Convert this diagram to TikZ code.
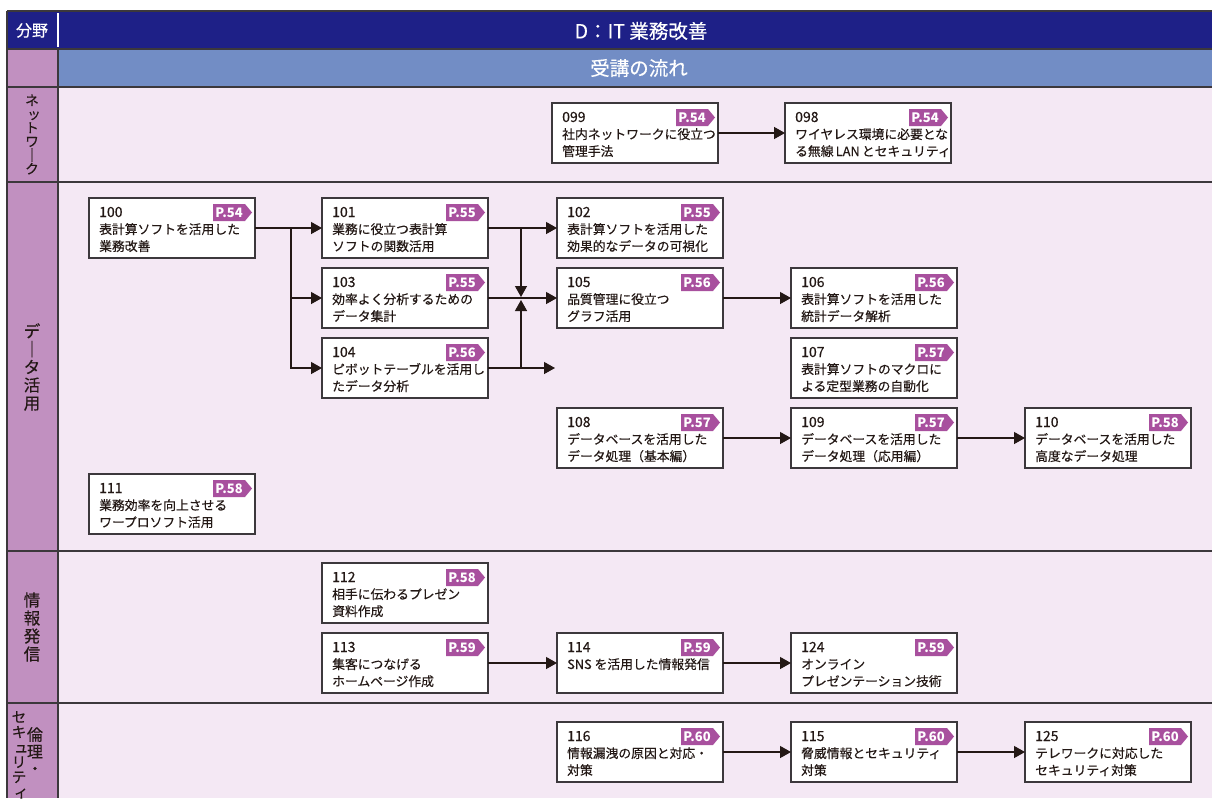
\documentclass[tikz,border=0pt]{standalone}
\usepackage{fontspec}
\setmainfont{Noto Sans CJK JP}[UprightFeatures={FakeBold=0.35}]
\usetikzlibrary{arrows.meta}
\definecolor{navy}{RGB}{30,32,135}
\definecolor{rowblue}{RGB}{114,141,197}
\definecolor{leftpink}{RGB}{193,144,192}
\definecolor{lanebg}{RGB}{244,232,244}
\definecolor{tagc}{RGB}{168,80,158}
\definecolor{ink}{RGB}{35,24,21}
\definecolor{rulec}{RGB}{60,56,60}
\newcommand{\smk}[1]{\hspace*{0.3em}#1}
\newcommand{\vbar}{｜}
\tikzset{
  cbox/.style={anchor=north west, minimum width=166pt, minimum height=60pt, draw=rulec, fill=white, line width=1.2pt, inner sep=0pt, outer sep=0pt},
  ctxt/.style={anchor=base west, inner sep=0pt, font=\fontsize{12.8}{15}\selectfont, text=ink},
  cnum/.style={anchor=base west, inner sep=0pt, font=\fontsize{14}{15}\selectfont, text=ink},
  tagtxt/.style={inner sep=0pt, font=\fontsize{13}{13}\selectfont\bfseries, text=white},
  conn/.style={draw=ink, line width=1.3pt, -{Triangle[length=11pt,width=12pt]}},
  vlab/.style={align=center, inner sep=0pt, text=ink},
  rl/.style={draw=rulec, line width=1.2pt},
  hdr/.style={inner sep=0pt, text=white}
}
\newcommand{\crsbox}[7]{%
  \node[cbox] (#1) at (#2,#3) {};
  \fill[tagc] (#2+124,#3+6) -- (#2+156,#3+6) -- (#2+163,#3+14.5) -- (#2+156,#3+23) -- (#2+124,#3+23) -- cycle;
  \node[tagtxt] at (#2+140,#3+14.5) {P.#7};
  \node[cnum] at (#2+10,#3+19) {#4};
  \node[ctxt] at (#2+10,#3+36) {#5};
  \node[ctxt] at (#2+10,#3+53) {#6};
}
\begin{document}
\begin{tikzpicture}[x=1pt,y=-1pt]
\useasboundingbox (0,0) rectangle (1212,798);
% backgrounds
\fill[navy] (7,11) rectangle (1212,49);
\fill[leftpink] (7,49) rectangle (58,798);
\fill[rowblue] (58,49) rectangle (1212,87);
\fill[lanebg] (58,87) rectangle (1212,798);
% rules
\draw[rl] (7,11) -- (1212,11);
\draw[rl] (7,11) -- (7,798);
\draw[rl] (7,49) -- (1212,49);
\draw[rl] (7,87) -- (1212,87);
\draw[rl] (7,182) -- (1212,182);
\draw[rl] (7,551) -- (1212,551);
\draw[rl] (7,703) -- (1212,703);
\draw[rl] (58,49) -- (58,798);
\draw[white, line width=1.5pt] (58,13) -- (58,47);
% header texts
\node[hdr, font=\fontsize{16}{16}\selectfont] (hfield) at (32,30.5) {分野};
\node[hdr, font=\fontsize{19.5}{19.5}\selectfont] (htitle) at (641,31) {D：IT 業務改善};
\node[hdr, font=\fontsize{19.5}{19.5}\selectfont] (hflow) at (639,68) {受講の流れ};
% lane labels
\node[vlab, font=\fontsize{13.6}{13.7}\selectfont] (lnet) at (32,134.5) {ネ\\\smk{ッ}\\ト\\ワ\\\vbar\\ク};
\node[vlab, font=\fontsize{16.5}{18}\selectfont] (ldata) at (32,367) {デ\\\vbar\\タ\\活\\用};
\node[vlab, font=\fontsize{16.5}{18}\selectfont] (linfo) at (32,627) {情\\報\\発\\信};
\node[vlab, anchor=north, font=\fontsize{16}{17}\selectfont] (lsec1) at (35,727) {倫\\理\\・};
\node[vlab, anchor=north, font=\fontsize{14.5}{15}\selectfont] (lsec2) at (19,711) {セ\\キ\\\smk{ュ}\\リ\\テ\\\smk{ィ}};
% boxes
\crsbox{b099}{552}{103}{099}{社内ネットワークに役立つ}{管理手法}{54}
\crsbox{b098}{785}{103}{098}{ワイヤレス環境に必要とな}{る無線\,LAN\,とセキュリティ}{54}
\crsbox{b100}{89}{198}{100}{表計算ソフトを活用した}{業務改善}{54}
\crsbox{b101}{322}{198}{101}{業務に役立つ表計算}{ソフトの関数活用}{55}
\crsbox{b103}{322}{268}{103}{効率よく分析するための}{データ集計}{55}
\crsbox{b104}{322}{338}{104}{ピボットテーブルを活用し}{たデータ分析}{56}
\crsbox{b102}{557}{198}{102}{表計算ソフトを活用した}{効果的なデータの可視化}{55}
\crsbox{b105}{557}{268}{105}{品質管理に役立つ}{グラフ活用}{56}
\crsbox{b106}{791}{268}{106}{表計算ソフトを活用した}{統計データ解析}{56}
\crsbox{b107}{791}{338}{107}{表計算ソフトのマクロに}{よる定型業務の自動化}{57}
\crsbox{b108}{557}{408}{108}{データベースを活用した}{データ処理（基本編）}{57}
\crsbox{b109}{791}{408}{109}{データベースを活用した}{データ処理（応用編）}{57}
\crsbox{b110}{1025}{408}{110}{データベースを活用した}{高度なデータ処理}{58}
\crsbox{b111}{89}{474}{111}{業務効率を向上させる}{ワープロソフト活用}{58}
\crsbox{b112}{322}{563}{112}{相手に伝わるプレゼン}{資料作成}{58}
\crsbox{b113}{322}{633}{113}{集客につなげる}{ホームページ作成}{59}
\crsbox{b114}{557}{633}{114}{SNS を活用した情報発信}{}{59}
\crsbox{b124}{791}{633}{124}{オンライン}{プレゼンテーション技術}{59}
\crsbox{b116}{557}{722}{116}{情報漏洩の原因と対応・}{対策}{60}
\crsbox{b115}{791}{722}{115}{脅威情報とセキュリティ}{対策}{60}
\crsbox{b125}{1025}{722}{125}{テレワークに対応した}{セキュリティ対策}{60}
% connector helpers
\coordinate (t1) at (291,0);
\coordinate (t2) at (521,0);
\coordinate (jdown) at (521,297);
\coordinate (jup) at (521,300);
\coordinate (e104) at (555,368);
% connectors
\draw[conn] (b099.east) -- (b098.west);
\draw[conn] (b100.east) -- (b101.west);
\draw[conn] (b100.east -| t1) |- (b103.west);
\draw[conn] (b100.east -| t1) |- (b104.west);
\draw[conn] (b101.east) -- (b102.west);
\draw[conn] (b103.east) -- (b105.west);
\draw[conn] (b104.east) -- (e104);
\draw[conn] (b101.east -| t2) -- (jdown);
\draw[conn] (b104.east -| t2) -- (jup);
\draw[conn] (b105.east) -- (b106.west);
\draw[conn] (b108.east) -- (b109.west);
\draw[conn] (b109.east) -- (b110.west);
\draw[conn] (b113.east) -- (b114.west);
\draw[conn] (b114.east) -- (b124.west);
\draw[conn] (b116.east) -- (b115.west);
\draw[conn] (b115.east) -- (b125.west);
\end{tikzpicture}
\end{document}
